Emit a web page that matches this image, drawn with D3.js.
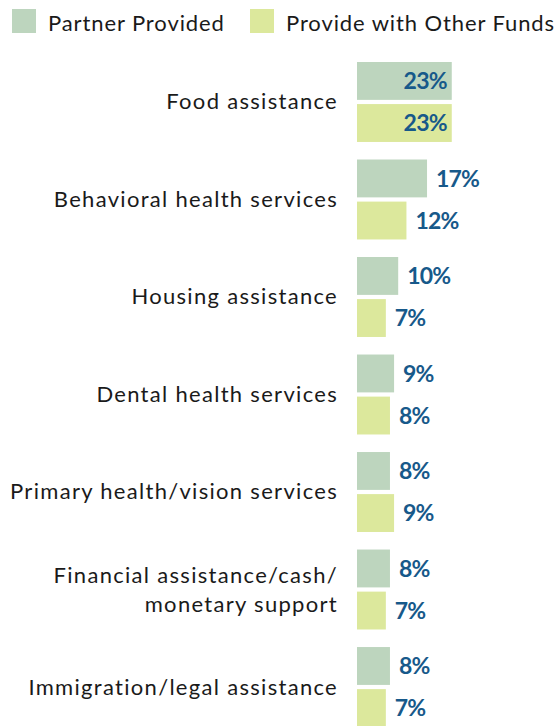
<!DOCTYPE html>
<html>
<head>
<meta charset="utf-8">
<script src="https://cdn.jsdelivr.net/npm/d3@7"></script>
<style>
  html, body { margin: 0; padding: 0; background: #fff; }
  svg { display: block; }
  text { font-family: Lato, "Open Sans", sans-serif; }
</style>
</head>
<body>
<svg id="chart" width="556" height="726"></svg>
<script>
// Services offered, share of respondents by funding source
const categories = [
  ["Food assistance"],
  ["Behavioral health services"],
  ["Housing assistance"],
  ["Dental health services"],
  ["Primary health/vision services"],
  ["Financial assistance/cash/", "monetary support"],
  ["Immigration/legal assistance"]
];
const seriesNames = ["Partner Provided", "Provide with Other Funds"];
const partnerProvided = [23, 17, 10, 9, 8, 8, 8];
const otherFunds = [23, 12, 7, 8, 9, 7, 7];
const seriesColors = ["#bdd5be", "#dce89c"];

const svg = d3.select("#chart");
const barLeft = 357;

const rows = categories.map((c, i) => ({
  key: c.join(" "),
  lines: c,
  values: [partnerProvided[i], otherFunds[i]]
}));

const y0 = d3.scaleBand()
  .domain(rows.map(d => d.key))
  .range([62, 727])
  .paddingInner(0.18)
  .paddingOuter(0);

const y1 = d3.scaleBand()
  .domain(seriesNames)
  .range([0, y0.bandwidth()])
  .paddingInner(0.1);

const x = d3.scaleLinear().domain([0, 100]).range([barLeft, barLeft + 412]);
const color = d3.scaleOrdinal().domain(seriesNames).range(seriesColors);

// Legend
const legend = svg.append("g");
const legendX = [12, 250];
seriesNames.forEach((name, i) => {
  const g = legend.append("g").attr("transform", `translate(${legendX[i]},9)`);
  g.append("rect").attr("width", 24).attr("height", 24).attr("fill", color(name));
  g.append("text")
    .attr("x", 36).attr("y", 22.3)
    .attr("font-size", 22).attr("letter-spacing", 0.9).attr("fill", "#1a1a1a")
    .text(name);
});

// Groups
const groups = svg.append("g").selectAll("g")
  .data(rows).join("g")
  .attr("transform", d => `translate(0,${y0(d.key)})`);

// Category labels
groups.append("text")
  .attr("x", 338)
  .attr("text-anchor", "end")
  .attr("font-size", 22)
  .attr("letter-spacing", 1.3)
  .attr("fill", "#1a1a1a")
  .each(function(d) {
    const t = d3.select(this);
    const lh = 29;
    const c = y0.bandwidth() / 2;
    d.lines.forEach((line, j) => {
      t.append("tspan")
        .attr("x", 338)
        .attr("y", c + (j - (d.lines.length - 1) / 2) * lh)
        .attr("dy", 7.5)
        .text(line);
    });
  });

// Bars
const bars = groups.selectAll("g.bar")
  .data(d => d.values.map((v, i) => ({ series: seriesNames[i], value: v })))
  .join("g").attr("class", "bar");

bars.append("rect")
  .attr("x", x(0))
  .attr("y", d => y1(d.series))
  .attr("width", d => x(d.value) - x(0))
  .attr("height", y1.bandwidth())
  .attr("fill", d => color(d.series));

// Value labels: inside the bar for the widest bars, otherwise just past the end
bars.append("text")
  .attr("x", d => d.value >= 20 ? x(d.value) - 5 : x(d.value) + 9)
  .attr("y", d => y1(d.series) + y1.bandwidth() / 2)
  .attr("dy", "0.36em")
  .attr("text-anchor", d => d.value >= 20 ? "end" : "start")
  .attr("font-size", 23)
  .attr("font-weight", 700)
  .attr("letter-spacing", -0.8)
  .attr("fill", "#17598a")
  .text(d => d.value + "%");
</script>
</body>
</html>
